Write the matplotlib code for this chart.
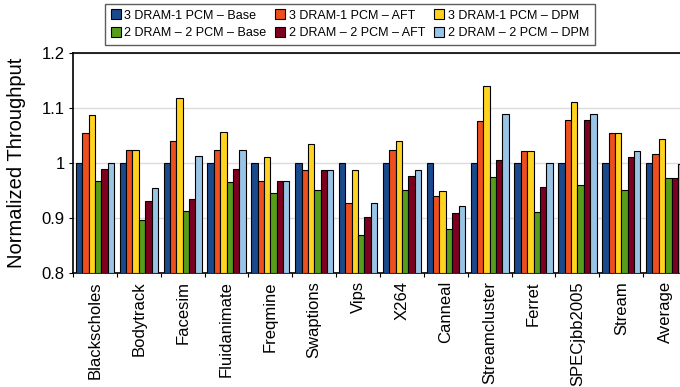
import numpy as np
import matplotlib
matplotlib.use('Agg')
import matplotlib.pyplot as plt
from matplotlib.patches import Patch

# --- Data: throughput normalized to the 3 DRAM-1 PCM baseline ---
benchmarks = ['Blackscholes', 'Bodytrack', 'Facesim', 'Fluidanimate', 'Freqmine',
              'Swaptions', 'Vips', 'X264', 'Canneal', 'Streamcluster', 'Ferret',
              'SPECjbb2005', 'Stream', 'Average']

base_3d1p = [1.0, 1.0, 1.0, 1.0, 1.0, 1.0, 1.0, 1.0, 1.0, 1.0, 1.0, 1.0, 1.0, 1.0]
aft_3d1p = [1.055, 1.023, 1.040, 1.023, 0.967, 0.988, 0.928, 1.024, 0.939, 1.077,
            1.022, 1.079, 1.055, 1.016]
dpm_3d1p = [1.088, 1.023, 1.119, 1.056, 1.011, 1.035, 0.988, 1.040, 0.949, 1.141,
            1.022, 1.111, 1.055, 1.044]
base_2d2p = [0.967, 0.897, 0.913, 0.966, 0.945, 0.950, 0.869, 0.950, 0.880, 0.974,
             0.910, 0.960, 0.950, 0.972]
aft_2d2p = [0.989, 0.931, 0.934, 0.989, 0.967, 0.988, 0.901, 0.976, 0.908, 1.005,
            0.956, 1.079, 1.011, 0.972]
dpm_2d2p = [1.0, 0.954, 1.013, 1.023, 0.967, 0.988, 0.928, 0.988, 0.922, 1.090,
            1.0, 1.090, 1.022, 0.998]

series = [
    ('3 DRAM-1 PCM \u2013 Base', base_3d1p, '#1B4A8C'),
    ('3 DRAM-1 PCM \u2013 AFT', aft_3d1p, '#EE4F1E'),
    ('3 DRAM-1 PCM \u2013 DPM', dpm_3d1p, '#FFD320'),
    ('2 DRAM \u2013 2 PCM \u2013 Base', base_2d2p, '#579D1C'),
    ('2 DRAM \u2013 2 PCM \u2013 AFT', aft_2d2p, '#7E0021'),
    ('2 DRAM \u2013 2 PCM \u2013 DPM', dpm_2d2p, '#99C4E6'),
]

plt.rcParams['font.family'] = ['Liberation Sans', 'DejaVu Sans']

fig = plt.figure(figsize=(6.8, 3.87), dpi=100)
# axes run slightly past the right edge of the figure
ax = fig.add_axes([0.1074, 0.2953, 0.903, 0.567])

x = np.arange(len(benchmarks))
bar_w = 0.145
n = len(series)
for i, (label, vals, color) in enumerate(series):
    offs = (i - (n - 1) / 2) * bar_w
    ax.bar(x + offs, np.array(vals) - 0.8, bar_w, bottom=0.8, color=color,
           edgecolor='black', linewidth=0.8, zorder=3)

ax.set_ylim(0.8, 1.2)
ax.set_xlim(-0.5, len(benchmarks) - 0.5)
ax.set_yticks([0.8, 0.9, 1.0, 1.1, 1.2])
ax.set_yticklabels(['0.8', '0.9', '1', '1.1', '1.2'], fontsize=12)
ax.yaxis.grid(True, color='#DCDCDC', linewidth=1.0, zorder=0)
ax.set_axisbelow(True)

ax.set_xticks(x)
ax.set_xticklabels(benchmarks, rotation=90, fontsize=12)
ax.set_xticks(np.arange(-0.5, len(benchmarks)), minor=True)
ax.tick_params(axis='x', which='major', length=0, pad=6)
ax.tick_params(axis='x', which='minor', length=3, width=0.8, direction='out')
ax.tick_params(axis='y', length=3, width=0.8, pad=3)

for side in ['left', 'bottom', 'top']:
    ax.spines[side].set_linewidth(1.2)
    ax.spines[side].set_color('black')
ax.spines['right'].set_visible(False)

ax.set_ylabel('Normalized Throughput', fontsize=14.5)
ax.yaxis.set_label_coords(-0.076, 0.5)

# legend fills column-wise, so interleave the two configurations
order = [0, 3, 1, 4, 2, 5]
handles = [Patch(facecolor=series[k][2], edgecolor='black', linewidth=0.8,
                 label=series[k][0]) for k in order]
leg = fig.legend(handles=handles, ncol=3, loc='upper left',
                 bbox_to_anchor=(0.1544, 0.99), fontsize=9, frameon=True,
                 fancybox=False, edgecolor='black', handlelength=0.8,
                 handleheight=0.8, handletextpad=0.3, columnspacing=0.7,
                 labelspacing=0.45, borderpad=0.45, borderaxespad=0)
leg.get_frame().set_linewidth(1.0)
leg.get_frame().set_edgecolor('#333333')

fig.savefig('out.png', dpi=100)
